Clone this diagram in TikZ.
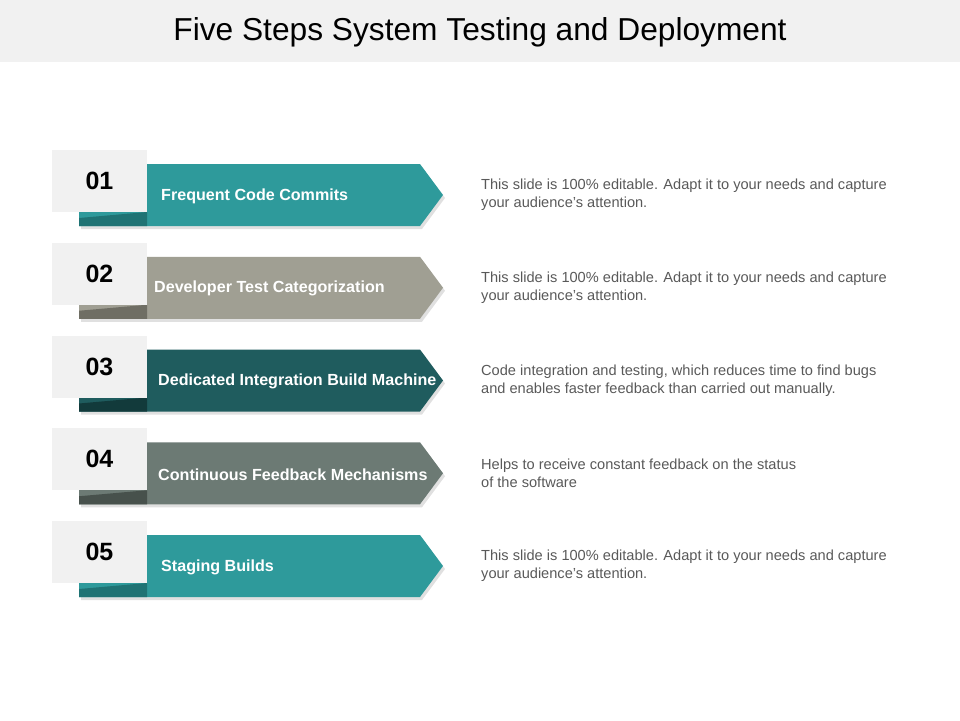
\documentclass[tikz,border=0pt]{standalone}
\usepackage{fontspec}
\setmainfont{Liberation Sans}
\begin{document}
\begin{tikzpicture}[x=1pt,y=-1pt,
  numbox/.style={fill=numgray,minimum width=95pt,minimum height=62pt,inner sep=0pt,font=\fontsize{25}{29}\selectfont\bfseries},
  lbl/.style={anchor=west,text=white,font=\fontsize{16.1}{19}\selectfont\bfseries,inner sep=0pt},
  desc/.style={anchor=west,text=desc,align=left,font=\fontsize{14.6}{18}\selectfont,inner sep=0pt}]
\definecolor{numgray}{HTML}{F1F1F1}
\definecolor{desc}{HTML}{595959}
\definecolor{cA}{HTML}{2E9A9B}\definecolor{dA}{HTML}{1F7374}
\definecolor{cB}{HTML}{A09F93}\definecolor{dB}{HTML}{6F6E64}
\definecolor{cC}{HTML}{1F5C5E}\definecolor{dC}{HTML}{123A3B}
\definecolor{cD}{HTML}{6C7A74}\definecolor{dD}{HTML}{47514C}
\useasboundingbox (0,0) rectangle (960,720);
\fill[numgray] (0,0) rectangle (960,62);
\node[font=\fontsize{31.7}{36}\selectfont] (title) at (480,32) {Five Steps System Testing and Deployment};
\foreach \i/\c/\d/\n/\t/\s in {
 0/cA/dA/01/Frequent Code Commits/{This slide is 100\% editable. Adapt it to your needs and capture\\your audience's attention.},
 1/cB/dB/02/Developer Test Categorization/{This slide is 100\% editable. Adapt it to your needs and capture\\your audience's attention.},
 2/cC/dC/03/Dedicated Integration Build Machine/{Code integration and testing, which reduces time to find bugs\\and enables faster feedback than carried out manually.},
 3/cD/dD/04/Continuous Feedback Mechanisms/{Helps to receive constant feedback on the status\\of the software},
 4/cA/dA/05/Staging Builds/{This slide is 100\% editable. Adapt it to your needs and capture\\your audience's attention.}}{
  \pgfmathsetmacro{\yt}{164+92.75*\i}
  \fill[black!12] (81,\yt+3) -- (422,\yt+3) -- (445,\yt+34) -- (422,\yt+65) -- (81,\yt+65) -- cycle;
  \fill[\c] (79,\yt) -- (420,\yt) -- (443,\yt+31) -- (420,\yt+62) -- (79,\yt+62) -- cycle;
  \fill[\d] (79,\yt+54) -- (147,\yt+48) -- (147,\yt+62) -- (79,\yt+62) -- cycle;
  \node[numbox] (n\i) at (99.5,\yt+17) {\n};
  \node[lbl] (l\i) at (\ifnum\i=0 161\else\ifnum\i=4 161\else\ifnum\i=1 154\else 158\fi\fi\fi,\yt+32) {\t};
  \node[desc] (d\i) at (481,\yt+31) {\s};
}
\end{tikzpicture}
\end{document}
